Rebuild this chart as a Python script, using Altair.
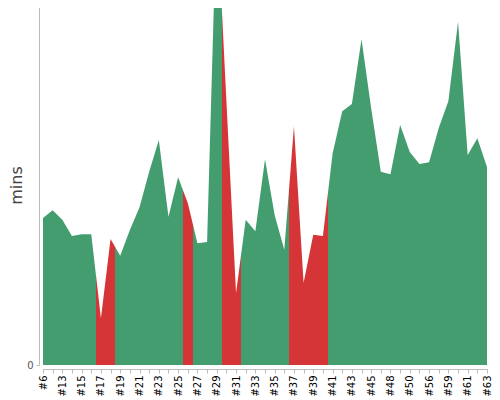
import altair as alt
import pandas as pd

# Build labels (x categories) in display order
builds = ["#6", "#12", "#13", "#14", "#15", "#16", "#17", "#18", "#19", "#20",
          "#21", "#22", "#23", "#24", "#25", "#26", "#27", "#28", "#29", "#30",
          "#31", "#32", "#33", "#34", "#35", "#36", "#37", "#38", "#39", "#40",
          "#41", "#42", "#43", "#44", "#45", "#47", "#48", "#49", "#50", "#53",
          "#56", "#58", "#59", "#60", "#61", "#62", "#63"]

# Duration in minutes
mins = [24.5, 25.8, 24.2, 21.5, 21.8, 21.8, 7.8, 21.0, 18.2, 22.5,
        26.3, 32.2, 37.5, 24.7, 31.3, 27.0, 20.3, 20.5, 76.7, 44.0,
        12.0, 24.2, 22.3, 34.3, 25.0, 19.2, 39.8, 13.7, 21.7, 21.5,
        35.2, 42.3, 43.5, 54.3, 42.8, 32.2, 31.8, 40.0, 35.5, 33.5,
        33.8, 39.5, 44.0, 57.2, 35.0, 37.8, 33.0]

# Build status
status = ["ok", "ok", "ok", "ok", "ok", "ok", "fail", "fail", "ok", "ok",
          "ok", "ok", "ok", "ok", "ok", "fail", "ok", "ok", "ok", "fail",
          "fail", "ok", "ok", "ok", "ok", "ok", "fail", "fail", "fail", "fail",
          "ok", "ok", "ok", "ok", "ok", "ok", "ok", "ok", "ok", "ok",
          "ok", "ok", "ok", "ok", "ok", "ok", "ok"]

palette = {"ok": "#449d6f", "fail": "#d63537"}

df = pd.DataFrame({"build": builds, "mins": mins, "status": status})

# Hard-stop gradient: each point's colour covers half a step on each side
n = len(builds) - 1
stops = [alt.GradientStop(color=palette[status[0]], offset=0)]
for i in range(n):
    if status[i] != status[i + 1]:
        off = (i + 0.5) / n
        stops.append(alt.GradientStop(color=palette[status[i]], offset=off))
        stops.append(alt.GradientStop(color=palette[status[i + 1]], offset=off))
stops.append(alt.GradientStop(color=palette[status[-1]], offset=1))

gradient = alt.Gradient(gradient="linear", stops=stops, x1=0, x2=1, y1=0, y2=0)

shown = builds[::2]
label_expr = "indexof([" + ",".join("'" + s + "'" for s in shown) + "], datum.value) >= 0 ? datum.label : ''"

chart = alt.Chart(df).mark_area(color=gradient, clip=True, interpolate="linear").encode(
    x=alt.X("build:N", sort=builds,
            scale=alt.Scale(type="point", padding=0),
            axis=alt.Axis(title=None, labelAngle=-90, labelExpr=label_expr,
                          labelColor="#000000", labelFontSize=10, labelFont="DejaVu Sans",
                          tickSize=4, tickColor="#bbbbbb", domainColor="#bbbbbb",
                          offset=4, grid=False, labelPadding=2)),
    y=alt.Y("mins:Q", scale=alt.Scale(domain=[0, 60], nice=False, zero=True),
            axis=alt.Axis(title="mins", values=[0], grid=False, offset=4,
                          tickSize=3, tickColor="#bbbbbb", domainColor="#bbbbbb",
                          labelColor="#555555", labelFontSize=10, labelFont="DejaVu Sans",
                          labelPadding=3, titleFont="DejaVu Sans", titleFontSize=16,
                          titleFontWeight="normal", titleColor="#444444", titlePadding=2)),
).properties(
    width=444, height=360,
    autosize=alt.AutoSizeParams(type="none"),
    padding={"left": 35, "top": -3, "right": 5, "bottom": 33},
).configure_view(stroke=None)

chart.save("out.html", embed_options={"renderer": "svg", "actions": False})
